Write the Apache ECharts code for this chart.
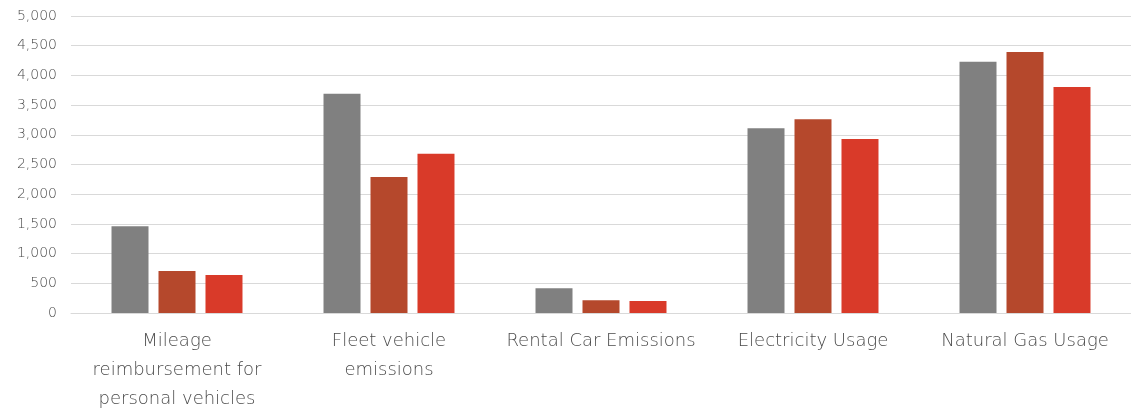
<!DOCTYPE html>
<html>
<head>
<meta charset="utf-8">
<script src="https://cdn.jsdelivr.net/npm/echarts@6/dist/echarts.min.js"></script>
<style>html,body{margin:0;padding:0;background:#fff}#c{width:1131px;height:412px}</style>
</head>
<body>
<div id="c"></div>
<script>
const categories = ["Mileage\nreimbursement for\npersonal vehicles", "Fleet vehicle\nemissions", "Rental Car Emissions", "Electricity Usage", "Natural Gas Usage"];
const series1 = [1460, 3690, 415, 3110, 4230];
const series2 = [705, 2290, 215, 3260, 4395];
const series3 = [640, 2680, 200, 2930, 3805];
const seriesNames = ["Series 1", "Series 2", "Series 3"];
const colors = ["#808080", "#B5482C", "#D93A29"];

const chart = echarts.init(document.getElementById('c'), null, {renderer: 'canvas'});
const font = '"DejaVu Sans", sans-serif';
chart.setOption({
  animation: false,
  grid: {left: 71, right: 0, top: 16, bottom: 99, containLabel: false, outerBoundsMode: 'none'},
  xAxis: {
    type: 'category',
    data: categories,
    axisLine: {lineStyle: {color: '#d9d9d9', width: 1}},
    axisTick: {show: false},
    axisLabel: {color: '#4a4a4a', fontSize: 18, fontWeight: 200, fontFamily: font, lineHeight: 29, margin: 14, interval: 0}
  },
  yAxis: {
    type: 'value',
    min: 0, max: 5000, interval: 500,
    axisLine: {show: false},
    axisTick: {show: false},
    splitLine: {lineStyle: {color: '#d9d9d9', width: 1}},
    axisLabel: {
      color: '#4a4a4a', fontSize: 14, fontWeight: 200, fontFamily: font, margin: 14,
      formatter: v => v.toLocaleString('en-US')
    }
  },
  series: [series1, series2, series3].map((d, i) => ({
    name: seriesNames[i],
    type: 'bar',
    data: d,
    barWidth: 37,
    barGap: '27%',
    itemStyle: {color: colors[i]}
  }))
});
</script>
</body>
</html>
